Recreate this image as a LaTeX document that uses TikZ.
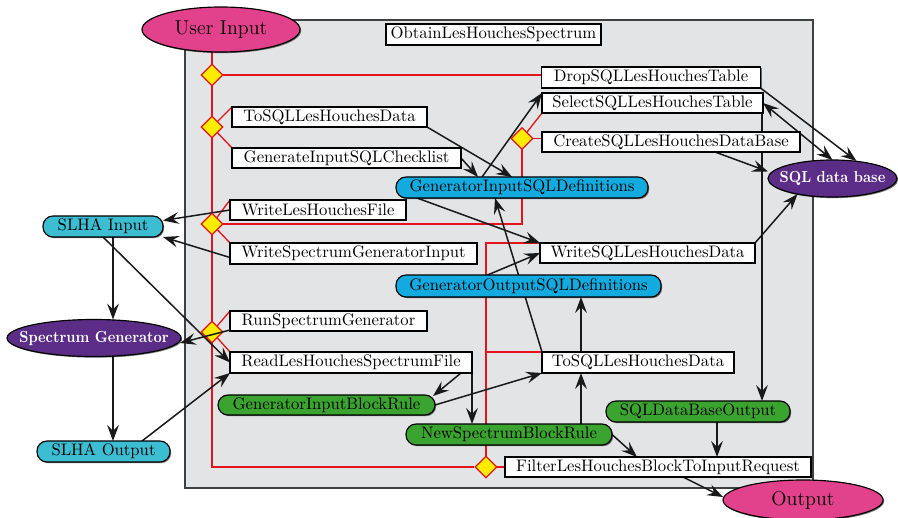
\documentclass[tikz,border=0pt]{standalone}
\usetikzlibrary{shapes.geometric,arrows.meta,calc,shadows}
\usepackage{graphicx}
\definecolor{greyfill}{HTML}{E3E4E6}
\definecolor{magentaE}{HTML}{E2418B}
\definecolor{purpleE}{HTML}{5C2D87}
\definecolor{cyanN}{HTML}{12AADF}
\definecolor{tealN}{HTML}{3DBDD1}
\definecolor{greenN}{HTML}{3BA32F}
\definecolor{yellowD}{HTML}{FFEC00}
\definecolor{redL}{HTML}{E3141B}
\pgfdeclarelayer{back}\pgfdeclarelayer{edges}\pgfsetlayers{back,edges,main}
\newcommand\boldlbl[1]{\makebox[0pt]{\scalebox{0.9}[1]{#1}}}
\begin{document}
\begin{tikzpicture}[x=0.6pt,y=-0.6pt,
 sz/.style 2 args={minimum width={#1*0.6pt},minimum height={#2*0.6pt}},
 nbase/.style={inner sep=0pt,outer sep=0pt,line width=0.7pt,draw=black,font=\fontsize{10}{12}\selectfont},
 shad/.style={drop shadow={shadow xshift=0.7pt,shadow yshift=-0.7pt,fill=black,opacity=0.55}},
 wbox/.style={nbase,rectangle,fill=white,shad},
 pill/.style={nbase,rectangle,rounded corners=6pt,shad},
 ell/.style={nbase,ellipse,shad},
 bigtxt/.style={font=\fontsize{12}{14}\selectfont},
 boldtxt/.style={text=white,font=\fontsize{9.6}{11}\selectfont\bfseries},
 dmd/.style={diamond,inner sep=0pt,sz={22}{22},fill=yellowD,draw=redL,line width=0.8pt},
 redl/.style={line width=0.8pt,draw=redL},
 >={Stealth[length=9.5pt,width=7pt,inset=3.5pt]},
 arr/.style={line width=0.9pt,draw=black!90,->},
 arrb/.style={line width=0.9pt,draw=black!90,<->}
]
\useasboundingbox (0,0) rectangle (898,518);
\begin{pgfonlayer}{back}
\node[rectangle,draw=black!75,fill=greyfill,line width=0.9pt,inner sep=0pt,sz={628}{468}] (frame) at (499,254) {};
\end{pgfonlayer}

% nodes
\node[wbox,sz={215}{21}] (obtain) at (493.5,34.5) {ObtainLesHouchesSpectrum};
\node[wbox,sz={219}{21}] (dropT) at (651,77.5) {DropSQLLesHouchesTable};
\node[wbox,sz={221}{20}] (selectT) at (652.5,103) {SelectSQLLesHouchesTable};
\node[wbox,sz={258}{20}] (createDB) at (671,142) {CreateSQLLesHouchesDataBase};
\node[wbox,sz={195}{20}] (toSQLa) at (329.5,117) {ToSQLLesHouchesData};
\node[wbox,sz={229}{20}] (genCheck) at (346.5,158) {GenerateInputSQLChecklist};
\node[pill,fill=cyanN,sz={252}{21}] (gisd) at (522,187.5) {GeneratorInputSQLDefinitions};
\node[wbox,sz={176}{20}] (writeLHF) at (318,210) {WriteLesHouchesFile};
\node[wbox,sz={247}{21}] (writeSGI) at (353.5,253.5) {WriteSpectrumGeneratorInput};
\node[wbox,sz={215}{20}] (writeSQL) at (647.5,253) {WriteSQLLesHouchesData};
\node[pill,fill=cyanN,sz={265}{22}] (gosd) at (528.5,286) {GeneratorOutputSQLDefinitions};
\node[wbox,sz={197}{20}] (runSG) at (328.5,321) {RunSpectrumGenerator};
\node[wbox,sz={242}{21}] (readLHSF) at (351,362.5) {ReadLesHouchesSpectrumFile};
\node[wbox,sz={192}{21}] (toSQLb) at (638,362.5) {ToSQLLesHouchesData};
\node[pill,fill=greenN,sz={217}{20}] (gibr) at (326.5,405) {GeneratorInputBlockRule};
\node[pill,fill=greenN,sz={206}{21}] (nsbr) at (509,434.5) {NewSpectrumBlockRule};
\node[pill,fill=greenN,sz={184}{21}] (sqldbo) at (698,411.5) {SQLDataBaseOutput};
\node[wbox,sz={306}{20}] (filter) at (658,467) {FilterLesHouchesBlockToInputRequest};
\node[ell,fill=magentaE,sz={158}{45},bigtxt] (userIn) at (221,29.5) {\makebox[0pt]{User Input}};
\node[ell,fill=purpleE,sz={174}{37},boldtxt] (specGen) at (94,338) {\boldlbl{Spectrum Generator}};
\node[ell,fill=purpleE,sz={129}{37},boldtxt] (sqldb) at (832.5,178.5) {\boldlbl{SQL data base}};
\node[ell,fill=magentaE,sz={160}{40},bigtxt] (output) at (803,500) {\makebox[0pt]{Output}};
\node[pill,fill=tealN,sz={120}{21}] (slhaIn) at (103,226.5) {SLHA Input};
\node[pill,fill=tealN,sz={133}{21}] (slhaOut) at (103.5,451.5) {SLHA Output};

% diamonds
\node[dmd] (D1) at (212,75) {};
\node[dmd] (D2) at (212,127) {};
\node[dmd] (D3) at (212,224) {};
\node[dmd] (D4) at (522,138.5) {};
\node[dmd] (D5) at (212,332) {};
\node[dmd] (D6) at (486,467) {};

\begin{pgfonlayer}{edges}
% red control lines
\draw[redl] ($(userIn.south)+(-9,0)$) |- (D6.west);
\draw[redl] (D1.center) -- (D1 -| dropT.west);
\draw[redl] (D2.center) -- (toSQLa.north west);
\draw[redl] (D2.center) -- (genCheck.north west);
\draw[redl] (D3.center) -- (writeLHF.north west);
\draw[redl] (D3.center) -- (writeSGI.north west);
\draw[redl] (D3.center) -| (D4.center);
\draw[redl] (D4.center) -- (selectT.south west);
\draw[redl] (D4.center) -- (D4 -| createDB.west);
\draw[redl] (D5.center) -- (runSG.north west);
\draw[redl] (D5.center) -- (readLHSF.north west);
\draw[redl] (D6.center) -- (D6 -| filter.west);
\draw[redl] (D6.center) |- (writeSQL.north west);
\draw[redl] (D6 |- toSQLb.north west) -- (toSQLb.north west);

% black connectors
\draw[arr] (toSQLa.south east) -- ($(gisd.north)+(-10,0)$);
\draw[arr] (genCheck.east) -- ($(gisd.north)+(-44,0)$);
\draw[arr] ($(gisd.north)+(-40,0)$) -- (selectT.north west);
\draw[arr] ($(gisd.south west)+(21,0)$) -- (writeSQL.north west);
\draw[arr] (toSQLb.north west) -- ($(gisd.south)+(-27,0)$);
\draw[arr] ($(gosd.north)+(-41,0)$) -- (writeSQL.west);
\draw[arr] ($(toSQLb.north)+(-57,0)$) coordinate (c7) -- (c7 |- gosd.south);
\draw[arr] ($(nsbr.north)+(72,0)$) coordinate (c8) -- (c8 |- toSQLb.south);
\draw[arr] (gibr.east) -- (toSQLb.south west);
\draw[arr] ($(readLHSF.south)+(110,0)$) -- ($(gibr.north east)+(-2,1)$);
\draw[arr] (readLHSF.south east) -- (readLHSF.south east |- nsbr.north);
\draw[arr] (nsbr.east) -- ($(filter.north)+(-21,0)$);
\draw[arr] ($(sqldbo.south)+(19,0)$) coordinate (c13) -- (c13 |- filter.north);
\draw[arr] ($(filter.south)+(25,0)$) -- ($(output.west)+(0,-3)$);
\draw[arr] ($(createDB.south)+(44,0)$) -- ($(sqldb.west)+(0,-7)$);
\draw[arr] (dropT.south east) -- ($(sqldb.north)+(24,1)$);
\draw[arrb] (selectT.east) -- (sqldb.north);
\draw[arr] (writeSQL.north east) -- (sqldb.204);
\draw[arr] ($(selectT.south east)+(-1,0)$) coordinate (c19) -- (c19 |- sqldbo.north);
\draw[arr] (writeLHF.west) -- ($(slhaIn.east)+(0,-6)$);
\draw[arr] ($(writeSGI.west)+(0,4)$) -- (slhaIn.south east);
\draw[arr] ($(slhaIn.south)+(10,0)$) coordinate (c22) -- (c22 |- specGen.north);
\draw[arr] (slhaIn.south) -- (readLHSF.west);
\draw[arr] ($(specGen.south)+(19,-0.5)$) coordinate (c25) -- (c25 |- slhaOut.north);
\draw[arr] ($(slhaOut.north)+(38.5,0)$) -- (readLHSF.south west);
\end{pgfonlayer}
\draw[arr] ($(runSG.west)+(0,9)$) -- ($(specGen.east)+(-1,5)$);
\end{tikzpicture}
\end{document}
